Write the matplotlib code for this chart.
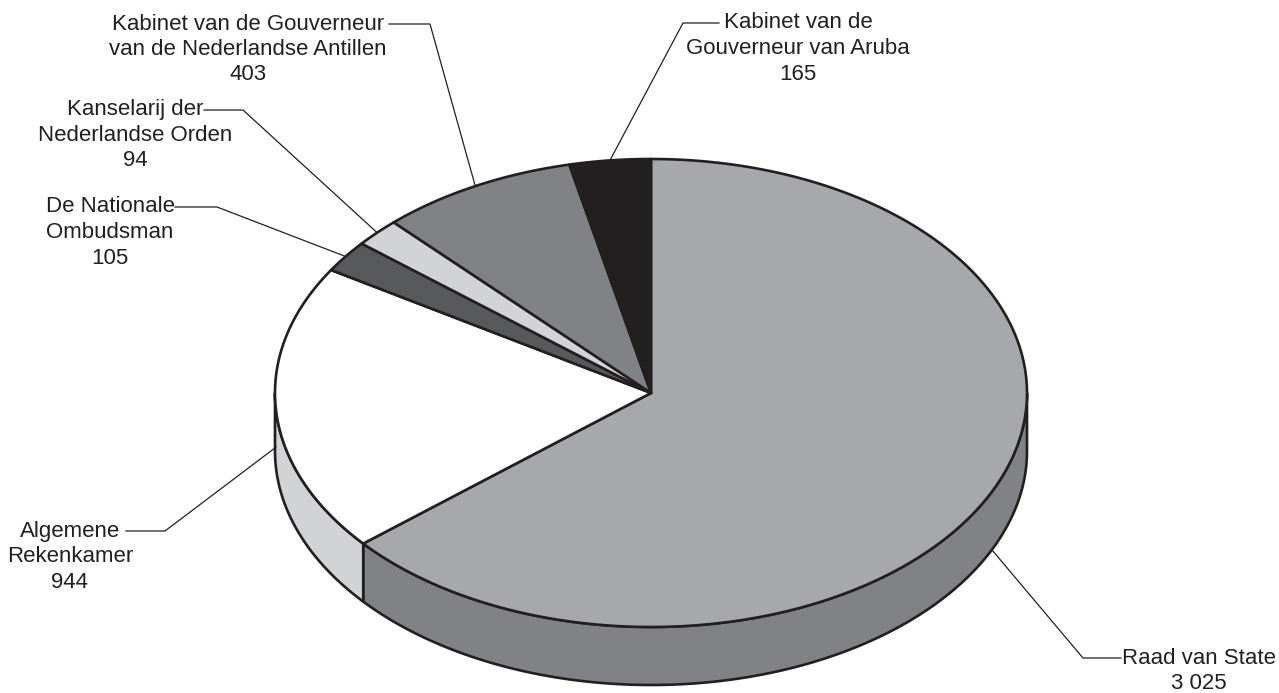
import numpy as np
import matplotlib.pyplot as plt
from matplotlib.patches import Polygon

# data
labels = ['Raad van State',
          'Algemene\nRekenkamer',
          'De Nationale\nOmbudsman',
          'Kanselarij der\nNederlandse Orden',
          'Kabinet van de Gouverneur\nvan de Nederlandse Antillen',
          'Kabinet van de\nGouverneur van Aruba']
values = [3025, 944, 105, 94, 403, 165]
value_text = ['3 025', '944', '105', '94', '403', '165']

# styles
top_colors = ['#a7a8ac', '#ffffff', '#58595b', '#d1d3d4', '#808285', '#231f20']
side_colors = ['#808285', '#d1d3d4', '#3f4042', '#b0b2b3', '#5f6062', '#151213']
ink = '#231f20'

# label placement (pixel coords): text centre x, first line y, elbow x, line end x
label_pos = [(1199, 658), (70, 531), (110, 207), (135, 110), (248, 24), (798, 23)]
elbow = [(1083, 1121), (165, 126), (217, 175), (243, 204), (430, 389), (683, 719)]
anchor_depth = [1.0, 0.64, 0, 0, 0, 0]

cx, cy, rx, ry, depth = 651, 393, 376, 234, 58


def pt(theta, dz=0.0):
    t = np.radians(theta)
    return cx + rx * np.cos(t), cy - ry * np.sin(t) + dz


def arc(t0, t1, dz=0.0, n=200):
    ts = np.linspace(t0, t1, n)
    x, y = pt(ts, dz)
    return np.column_stack([x, y])


fig = plt.figure(figsize=(12.79, 6.93), dpi=100)
ax = fig.add_axes([0, 0, 1, 1])
ax.set_xlim(0, 1279)
ax.set_ylim(693, 0)
ax.axis('off')

total = float(sum(values))
edges = 90 - 360 * np.concatenate([[0], np.cumsum(values)]) / total

# side walls (front half only)
for i in range(len(values)):
    t_start, t_end = edges[i], edges[i + 1]
    lo, hi = max(t_end, -180), min(t_start, 0)
    if lo < hi:
        pts = np.vstack([arc(hi, lo), arc(lo, hi, depth)])
        ax.add_patch(Polygon(pts, closed=True, facecolor=side_colors[i],
                             edgecolor=ink, lw=1.9, joinstyle='round', zorder=1))

# top faces
for i in range(len(values)):
    pts = np.vstack([[cx, cy], arc(edges[i], edges[i + 1])])
    ax.add_patch(Polygon(pts, closed=True, facecolor=top_colors[i],
                         edgecolor=ink, lw=1.9, joinstyle='round', zorder=2))

# labels with leader lines
for i in range(len(values)):
    mid = (edges[i] + edges[i + 1]) / 2
    ax_, ay_ = pt(mid, depth * anchor_depth[i])
    tx, ty = label_pos[i]
    ex, lx = elbow[i]
    ax.plot([ax_, ex, lx], [ay_, ty, ty], color=ink, lw=0.9, zorder=3,
            solid_joinstyle='miter')
    lines = labels[i].split('\n') + [value_text[i]]
    for k, s in enumerate(lines):
        ax.text(tx, ty + k * 25.5, s, ha='center', va='center',
                fontsize=16, family='Liberation Sans', color=ink)

plt.savefig('out.png', dpi=100)
